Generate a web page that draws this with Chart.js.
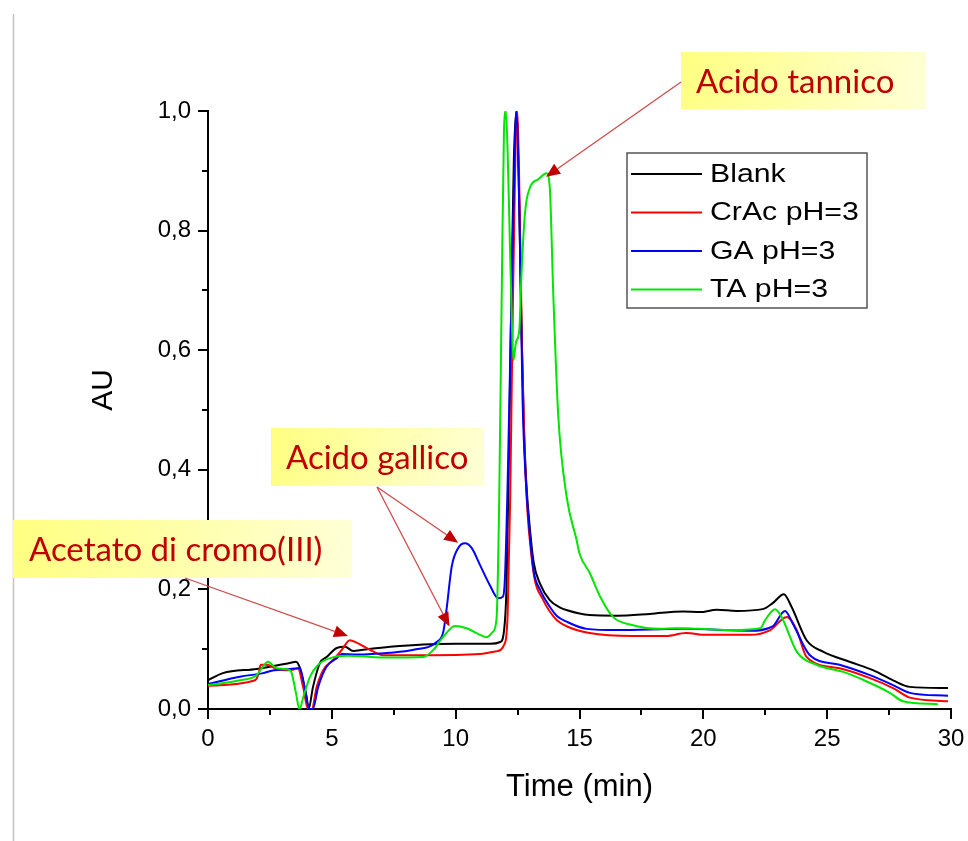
<!DOCTYPE html>
<html>
<head>
<meta charset="utf-8">
<script src="https://cdn.jsdelivr.net/npm/chart.js@4.4.1/dist/chart.umd.min.js"></script>
<style>
  html, body { margin: 0; padding: 0; background: #fff; }
</style>
</head>
<body>
<canvas id="myChart" width="968" height="841"></canvas>
<script>
// retention time (min) and absorbance (AU)
const blankTime = [0, 0.6, 1.97, 3.3, 3.55, 3.7, 3.85, 3.98, 4.06, 4.24, 4.52, 4.79, 5.2, 5.53, 5.86, 6.26, 7.35, 8.69, 10.04, 11.4, 11.8, 11.95, 12.05, 12.15, 12.25, 12.35, 12.45, 12.55, 12.65, 12.75, 12.85, 13.0, 13.15, 13.4, 13.8, 14.2, 14.5, 15.4, 16.5, 17.84, 19.18, 19.86, 20.54, 21.34, 22.4, 22.8, 23.25, 23.56, 24.17, 24.83, 25.9, 26.85, 27.66, 28.34, 29.88];
const blankAU = [0.048, 0.060, 0.067, 0.077, 0.079, 0.070, 0.045, 0.02, 0.0, 0.037, 0.077, 0.087, 0.102, 0.104, 0.097, 0.099, 0.104, 0.108, 0.109, 0.109, 0.112, 0.13, 0.2, 0.42, 0.7, 0.92, 1.0, 0.88, 0.65, 0.48, 0.38, 0.3, 0.245, 0.21, 0.182, 0.17, 0.165, 0.157, 0.156, 0.159, 0.163, 0.162, 0.166, 0.164, 0.167, 0.177, 0.192, 0.171, 0.115, 0.096, 0.079, 0.065, 0.048, 0.037, 0.035];

const crAcTime = [0, 1.9, 2.05, 2.13, 2.37, 2.77, 3.31, 3.63, 3.84, 4.04, 4.19, 4.39, 4.65, 5.05, 5.4, 5.73, 6.0, 6.54, 7.07, 8.69, 10.98, 11.59, 11.99, 12.1, 12.2, 12.3, 12.4, 12.48, 12.58, 12.68, 12.78, 12.9, 13.05, 13.2, 13.5, 13.8, 14.1, 14.5, 15.4, 17.16, 18.5, 19.3, 20.1, 21.88, 22.7, 23.37, 23.77, 24.17, 25.5, 26.7, 27.66, 28.34, 29.88];
const crAcAU = [0.039, 0.048, 0.06, 0.074, 0.074, 0.067, 0.065, 0.068, 0.037, 0.0, 0.0, 0.037, 0.065, 0.082, 0.099, 0.115, 0.111, 0.099, 0.09, 0.09, 0.092, 0.096, 0.11, 0.16, 0.35, 0.65, 0.9, 1.0, 0.85, 0.6, 0.44, 0.33, 0.26, 0.215, 0.185, 0.163, 0.148, 0.138, 0.127, 0.122, 0.122, 0.127, 0.124, 0.124, 0.132, 0.154, 0.132, 0.087, 0.068, 0.052, 0.035, 0.019, 0.013];

const gaTime = [0, 1.29, 2.22, 2.57, 3.31, 3.71, 3.92, 4.09, 4.23, 4.45, 4.79, 5.2, 5.4, 6.0, 7.35, 8.3, 9.23, 9.5, 9.63, 9.84, 10.1, 10.38, 10.65, 10.98, 11.38, 11.72, 11.91, 11.99, 12.1, 12.2, 12.33, 12.45, 12.6, 12.7, 12.85, 13.0, 13.15, 13.4, 13.8, 14.1, 14.48, 15.29, 16.5, 19.18, 21.88, 22.8, 23.3, 23.6, 24.3, 25.5, 26.7, 27.66, 28.34, 29.88];
const gaAU = [0.042, 0.054, 0.060, 0.064, 0.067, 0.068, 0.032, 0.0, 0.0, 0.037, 0.071, 0.085, 0.092, 0.091, 0.094, 0.099, 0.112, 0.129, 0.166, 0.238, 0.269, 0.277, 0.269, 0.241, 0.207, 0.185, 0.188, 0.22, 0.38, 0.58, 0.83, 1.0, 0.77, 0.52, 0.37, 0.29, 0.23, 0.2, 0.171, 0.155, 0.146, 0.134, 0.132, 0.134, 0.131, 0.138, 0.164, 0.144, 0.09, 0.074, 0.057, 0.04, 0.027, 0.022];

const taTime = [0, 1.29, 1.97, 2.22, 2.42, 2.77, 3.31, 3.38, 3.55, 3.69, 3.85, 4.12, 4.45, 4.93, 5.6, 7.35, 8.69, 9.1, 9.5, 9.97, 10.44, 10.98, 11.25, 11.5, 11.65, 11.76, 11.86, 11.95, 12.03, 12.12, 12.26, 12.33, 12.44, 12.57, 12.66, 12.8, 13.0, 13.34, 13.67, 13.8, 13.94, 14.14, 14.48, 14.88, 15.0, 15.42, 15.83, 16.35, 17.16, 18.25, 18.9, 19.86, 21.2, 22.3, 22.5, 22.9, 23.16, 23.77, 24.57, 25.65, 26.6, 27.53, 28.06, 29.47];
const taAU = [0.04, 0.048, 0.057, 0.071, 0.079, 0.068, 0.065, 0.06, 0.027, 0.0, 0.02, 0.054, 0.074, 0.085, 0.089, 0.086, 0.087, 0.099, 0.121, 0.139, 0.135, 0.124, 0.12, 0.129, 0.151, 0.355, 0.695, 0.967, 1.0, 0.897, 0.66, 0.583, 0.614, 0.634, 0.73, 0.83, 0.872, 0.886, 0.896, 0.872, 0.695, 0.492, 0.355, 0.283, 0.26, 0.227, 0.188, 0.154, 0.14, 0.134, 0.135, 0.134, 0.132, 0.135, 0.149, 0.167, 0.154, 0.096, 0.074, 0.062, 0.046, 0.027, 0.013, 0.008];

const seriesNames = ['Blank', 'CrAc pH=3', 'GA pH=3', 'TA pH=3'];
const seriesColors = ['#000000', '#ff0000', '#0000ff', '#00e600'];

// callout labels and the (time, AU) spots their arrows point at
const noteLabels = ['Acido tannico', 'Acido gallico', 'Acetato di cromo(III)'];
const noteTargets = [[[13.65, 0.89]], [[10.1, 0.278], [9.75, 0.138]], [[5.65, 0.122]]];

// where the callout boxes sit on the page (pixels)
const noteBoxes = [
  {x: 681, y: 52, w: 245, h: 57, tx: 696, ty: 93, ax: 681, ay: 82},
  {x: 271, y: 428, w: 213, h: 58, tx: 286, ty: 469, ax: 377, ay: 487},
  {x: 13, y: 520, w: 339, h: 58, tx: 29, ty: 561, ax: 185, ay: 578}
];

function pairs(t, v) {
  return t.map((x, i) => ({x: x, y: v[i]}));
}

const ctx = document.getElementById('myChart').getContext('2d');

function arrow(c, x1, y1, x2, y2) {
  const ang = Math.atan2(y2 - y1, x2 - x1);
  const head = 14, half = 6;
  const bx = x2 - head * Math.cos(ang), by = y2 - head * Math.sin(ang);
  c.strokeStyle = '#d24b4b';
  c.lineWidth = 1.3;
  c.beginPath(); c.moveTo(x1, y1); c.lineTo(bx, by); c.stroke();
  c.fillStyle = '#c00000';
  c.beginPath();
  c.moveTo(x2, y2);
  c.lineTo(bx + half * Math.sin(ang), by - half * Math.cos(ang));
  c.lineTo(bx - half * Math.sin(ang), by + half * Math.cos(ang));
  c.closePath(); c.fill();
}

const decor = {
  id: 'decor',
  beforeDraw(chart) {
    const c = chart.ctx;
    c.save();
    c.fillStyle = '#fff';
    c.fillRect(0, 0, chart.width, chart.height);
    c.strokeStyle = '#c4c4c4';
    c.lineWidth = 1.5;
    c.beginPath(); c.moveTo(13.5, 14); c.lineTo(13.5, chart.height); c.stroke();
    c.restore();
  },
  afterDraw(chart) {
    const c = chart.ctx, xs = chart.scales.x, ys = chart.scales.y;
    c.save();
    // tick marks, major + minor
    c.strokeStyle = '#000';
    c.lineWidth = 2;
    for (let i = 0; i <= 10; i++) {
      const y = Math.round(ys.getPixelForValue(i / 10));
      const len = i % 2 === 0 ? 10 : 6;
      c.beginPath(); c.moveTo(xs.left, y); c.lineTo(xs.left - len, y); c.stroke();
    }
    for (let i = 0; i <= 12; i++) {
      const x = Math.round(xs.getPixelForValue(i * 2.5));
      const len = i % 2 === 0 ? 10 : 6;
      c.beginPath(); c.moveTo(x, ys.bottom); c.lineTo(x, ys.bottom + len); c.stroke();
    }

    // y title
    c.save();
    c.translate(104, 390);
    c.rotate(-Math.PI / 2);
    c.fillStyle = '#000';
    c.font = '30px "Liberation Sans", Arial, sans-serif';
    c.textAlign = 'center';
    c.textBaseline = 'middle';
    c.fillText('AU', 0, 0);
    c.restore();

    // legend
    c.fillStyle = '#fff';
    c.fillRect(627, 153, 240, 155);
    c.strokeStyle = '#555';
    c.lineWidth = 1.5;
    c.strokeRect(627, 153, 240, 155);
    seriesNames.forEach((name, i) => {
      const y = 174 + i * 38.5;
      c.strokeStyle = seriesColors[i];
      c.lineWidth = 2;
      c.beginPath(); c.moveTo(631, y); c.lineTo(702, y); c.stroke();
      c.save();
      c.translate(710, y);
      c.scale(1.21, 1);
      c.fillStyle = '#000';
      c.font = '25px "Liberation Sans", Arial, sans-serif';
      c.textAlign = 'left';
      c.textBaseline = 'middle';
      c.fillText(name, 0, 1);
      c.restore();
    });

    // callouts
    noteLabels.forEach((label, i) => {
      const b = noteBoxes[i];
      const g = c.createLinearGradient(b.x, b.y, b.x + b.w, b.y + b.h);
      g.addColorStop(0, '#ffff80');
      g.addColorStop(1, '#ffffd8');
      c.fillStyle = g;
      c.fillRect(b.x, b.y, b.w, b.h);
      c.fillStyle = '#c00000';
      c.font = '33px Lato, "Open Sans", sans-serif';
      c.textAlign = 'left';
      c.textBaseline = 'alphabetic';
      c.fillText(label, b.tx, b.ty);
      noteTargets[i].forEach(p => {
        arrow(c, b.ax, b.ay, xs.getPixelForValue(p[0]), ys.getPixelForValue(p[1]));
      });
    });
    c.restore();
  }
};

const myChart = new Chart(ctx, {
  type: 'line',
  data: {
    datasets: [
      {label: seriesNames[0], data: pairs(blankTime, blankAU), borderColor: seriesColors[0], order: 4},
      {label: seriesNames[1], data: pairs(crAcTime, crAcAU), borderColor: seriesColors[1], order: 3},
      {label: seriesNames[2], data: pairs(gaTime, gaAU), borderColor: seriesColors[2], order: 2},
      {label: seriesNames[3], data: pairs(taTime, taAU), borderColor: seriesColors[3], order: 1}
    ]
  },
  options: {
    responsive: false,
    animation: false,
    devicePixelRatio: 1,
    parsing: false,
    elements: {
      line: {borderWidth: 2, cubicInterpolationMode: 'monotone', fill: false},
      point: {radius: 0, hoverRadius: 0}
    },
    layout: {padding: {left: 0, top: 111, right: 17, bottom: 0}},
    plugins: {legend: {display: false}, tooltip: {enabled: false}},
    scales: {
      x: {
        type: 'linear',
        min: 0, max: 30,
        grid: {display: false, drawTicks: false},
        border: {display: true, color: '#000', width: 2},
        ticks: {
          stepSize: 5,
          padding: 16,
          color: '#000',
          font: {family: '"Liberation Sans", Arial, sans-serif', size: 24},
          maxRotation: 0
        },
        title: {
          display: true,
          text: 'Time (min)',
          color: '#000',
          font: {family: '"Liberation Sans", Arial, sans-serif', size: 31},
          padding: {top: 0, bottom: 35}
        },
        afterFit(scale) {
          scale.height = 132;
          scale.paddingLeft = 0;
          scale.paddingRight = 0;
        }
      },
      y: {
        type: 'linear',
        min: 0, max: 1,
        grid: {display: false, drawTicks: false},
        border: {display: true, color: '#000', width: 2},
        ticks: {
          stepSize: 0.2,
          padding: 17,
          color: '#000',
          font: {family: '"Liberation Sans", Arial, sans-serif', size: 24},
          callback: function(v) { return v.toFixed(1).replace('.', ','); }
        },
        afterFit(scale) { scale.width = 208; }
      }
    }
  },
  plugins: [decor]
});
</script>
</body>
</html>
